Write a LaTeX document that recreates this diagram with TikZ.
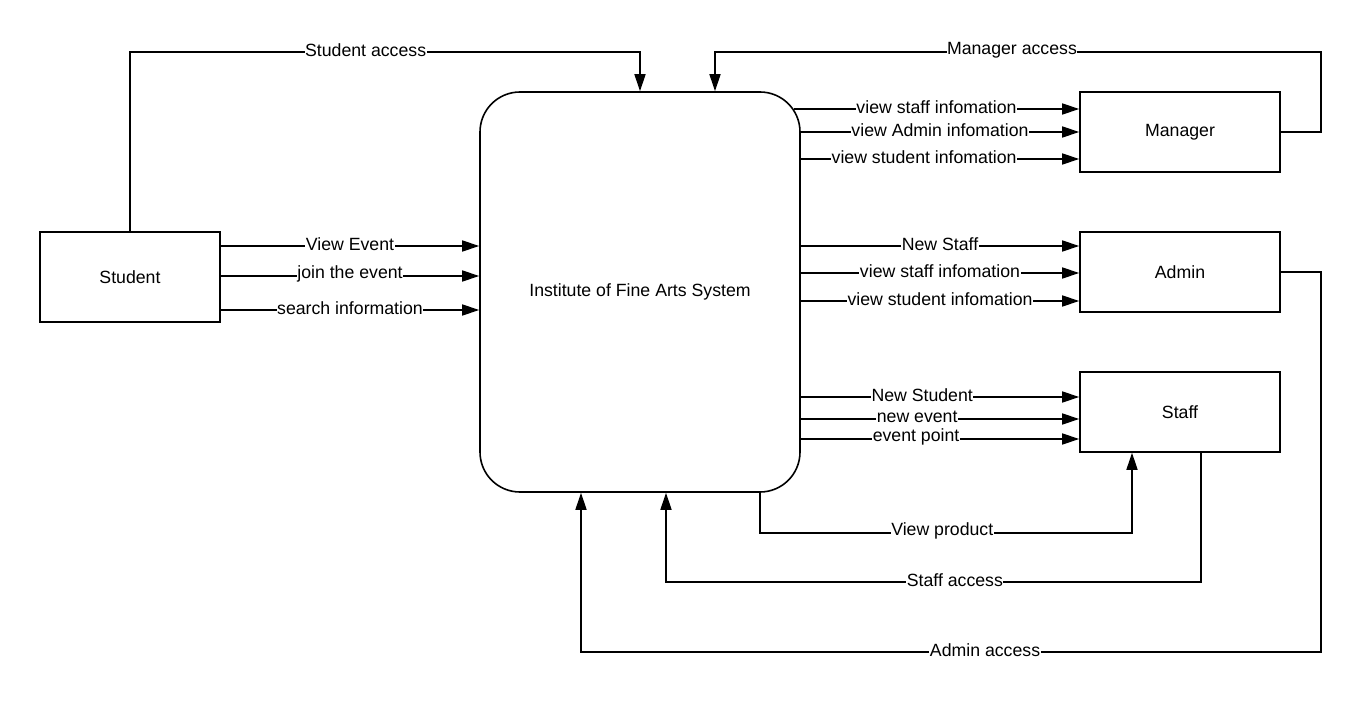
\documentclass[tikz,border=0pt]{standalone}
\usepackage{fontspec}
\setmainfont{Liberation Sans}
\usetikzlibrary{arrows.meta}

\begin{document}
\begin{tikzpicture}[x=1pt, y=-1pt, line width=1.6pt,
  font=\fontsize{17.7}{21}\selectfont,
  box/.style={draw, minimum width=200pt, minimum height=80pt, inner sep=0pt},
  flow/.style={-{Triangle[length=17pt,width=11pt]}},
  lbl/.style={fill=white, inner sep=0.5pt, yshift=2pt}]
\useasboundingbox (0,0) rectangle (1362,703);
\node[box, minimum width=180pt, minimum height=90pt] (student) at (130,277){Student};
\node[box, rounded corners=40pt, minimum width=320pt, minimum height=400pt] (system) at (640,292){Institute of Fine Arts System};
\node[box] (manager) at (1180,132){Manager};
\node[box] (admin) at (1180,272){Admin};
\node[box] (staff) at (1180,412){Staff};
\coordinate (c0) at (1321,52);
\coordinate (c1) at (715,52);
\coordinate (c2) at (760,533);
\coordinate (c3) at (1132,533);
\coordinate (c4) at (1201,582);
\coordinate (c5) at (666,582);
\coordinate (c6) at (1321,652);
\coordinate (c7) at (581,652);

\draw[flow](student.north) |- node[lbl, pos=0.731]{Student access} (system.north |- c0) -- (system.north);
\draw[flow](manager.east) -| (c0) -- node[lbl, pos=0.51]{Manager access} (c1) -- (system.north -| c1);
\draw[flow](student.east |- 0,246) -- node[lbl]{View Event} (system.west |- 0,246);
\draw[flow](student.east |- 0,276) -- node[lbl]{join the event} (system.west |- 0,276);
\draw[flow](student.east |- 0,310) -- node[lbl]{search information} (system.west |- 0,310);
\draw[flow]([xshift=-7pt]system.east |- 0,109) -- node[lbl, pos=0.5]{view staff infomation} (manager.west |- 0,109);
\draw[flow](system.east |- 0,132) -- node[lbl]{view Admin infomation} (manager.west |- 0,132);
\draw[flow](system.east |- 0,159) -- node[lbl, pos=0.443]{view student infomation} (manager.west |- 0,159);
\draw[flow](system.east |- 0,246) -- node[lbl]{New Staff} (admin.west |- 0,246);
\draw[flow](system.east |- 0,273) -- node[lbl]{view staff infomation} (admin.west |- 0,273);
\draw[flow](system.east |- 0,301) -- node[lbl]{view student infomation} (admin.west |- 0,301);
\draw[flow](system.east |- 0,397) -- node[lbl, pos=0.436]{New Student} (staff.west |- 0,397);
\draw[flow](system.east |- 0,419) -- node[lbl, pos=0.418]{new event} (staff.west |- 0,419);
\draw[flow](system.east |- 0,439) -- node[lbl, pos=0.414]{event point} (staff.west |- 0,439);
\draw[flow](system.south -| c2) -- (c2) -- node[lbl, pos=0.49]{View product} (c3) -- (staff.south -| c3);
\draw[flow](staff.south -| c4) -- (c4) -- node[lbl, pos=0.46]{Staff access} (c5) -- (system.south -| c5);
\draw[flow](admin.east) -| (c6) -- node[lbl, pos=0.454]{Admin access} (c7) -- (system.south -| c7);

\end{tikzpicture}
\end{document}
